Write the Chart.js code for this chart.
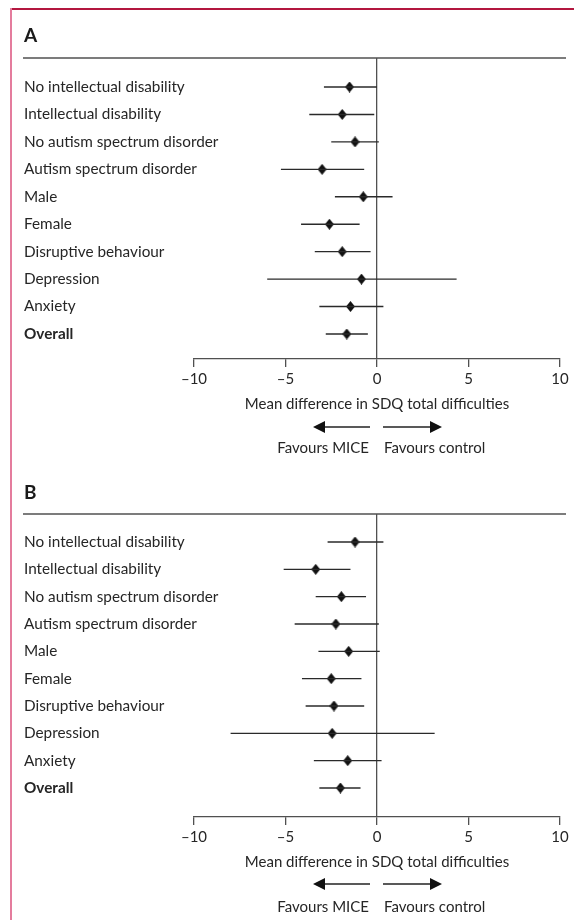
<!DOCTYPE html>
<html lang="en">
<head>
    <meta charset="UTF-8">
    <title>Forest plot - MICE vs control</title>
    <script src="https://cdn.jsdelivr.net/npm/chart.js"></script>
    <style>
        body {
            margin: 0;
            background: #fff;
        }
        .page {
            position: relative;
            width: 574px;
            height: 920px;
            overflow: hidden;
        }
        .border-top {
            position: absolute;
            left: 10px;
            top: 8px;
            width: 564px;
            height: 1.5px;
            background: #b3173f;
        }
        .border-left {
            position: absolute;
            left: 10px;
            top: 8px;
            width: 2px;
            height: 912px;
            background: #e47c9d;
        }
        canvas {
            position: absolute;
            left: 0;
        }
    </style>
</head>
<body>
    <div class="page">
        <canvas id="chartA" width="574" height="460" style="top:0"></canvas>
        <canvas id="chartB" width="574" height="460" style="top:460px"></canvas>
        <div class="border-top"></div>
        <div class="border-left"></div>
    </div>

    <script>
        // Subgroups (same in both panels)
        const subgroups = [
            'No intellectual disability',
            'Intellectual disability',
            'No autism spectrum disorder',
            'Autism spectrum disorder',
            'Male',
            'Female',
            'Disruptive behaviour',
            'Depression',
            'Anxiety',
            'Overall'
        ];

        // Panel A: mean difference and 95% CI
        const meanA  = [-1.5, -1.9, -1.2, -3.0, -0.75, -2.6, -1.9, -0.85, -1.45, -1.65];
        const lowerA = [-2.9, -3.7, -2.5, -5.25, -2.3, -4.15, -3.4, -6.0, -3.15, -2.8];
        const upperA = [0.0, -0.15, 0.1, -0.7, 0.85, -0.95, -0.35, 4.35, 0.35, -0.5];

        // Panel B
        const meanB  = [-1.2, -3.35, -1.95, -2.25, -1.55, -2.5, -2.35, -2.45, -1.6, -2.0];
        const lowerB = [-2.7, -5.1, -3.35, -4.5, -3.2, -4.1, -3.9, -8.0, -3.45, -3.15];
        const upperB = [0.35, -1.45, -0.6, 0.1, 0.15, -0.85, -0.7, 3.15, 0.25, -0.9];

        const xTicks = [-10, -5, 0, 5, 10];
        const axisTitle = 'Mean difference in SDQ total difficulties';
        const favoursLeft = 'Favours MICE';
        const favoursRight = 'Favours control';

        const FONT = 'Lato, "Open Sans", sans-serif';
        const TEXT = '#262626';
        const LINE = '#505050';
        const PLOT_LEFT = 194;   // pixel of x = -10
        const LABEL_LEFT = 24;

        // diamond marker
        function makeDiamond() {
            const c = document.createElement('canvas');
            c.width = 9;
            c.height = 11;
            const g = c.getContext('2d');
            g.fillStyle = '#111';
            g.beginPath();
            g.moveTo(4.5, 0);
            g.lineTo(9, 5.5);
            g.lineTo(4.5, 11);
            g.lineTo(0, 5.5);
            g.closePath();
            g.fill();
            return c;
        }
        const diamond = makeDiamond();

        function fmtTick(v) {
            return v < 0 ? '\u2013' + Math.abs(v) : String(v);
        }

        function drawArrow(ctx, x1, x2, y) {
            // line from x1 to x2, head at x2
            const dir = x2 > x1 ? 1 : -1;
            ctx.beginPath();
            ctx.moveTo(x1, y);
            ctx.lineTo(x2 - dir * 10, y);
            ctx.stroke();
            ctx.beginPath();
            ctx.moveTo(x2, y);
            ctx.lineTo(x2 - dir * 12, y - 6);
            ctx.lineTo(x2 - dir * 12, y + 6);
            ctx.closePath();
            ctx.fill();
        }

        function makeChart(id, letter, means, lows, highs, g) {
            const H = 460;
            const step = (g.rowLast - g.row0) / (subgroups.length - 1);
            const yMin = -(g.row0 - g.top) / step;
            const yMax = (subgroups.length - 1) + (g.axisY - g.rowLast) / step;

            const ciSets = subgroups.map((s, i) => ({
                data: [{ x: lows[i], y: i }, { x: highs[i], y: i }],
                showLine: true,
                borderColor: '#2a2a2a',
                borderWidth: 1.4,
                pointRadius: 0
            }));

            const decor = {
                id: 'decor' + letter,
                afterDraw(chart) {
                    const ctx = chart.ctx;
                    const area = chart.chartArea;
                    const xs = chart.scales.x;
                    const x0 = xs.getPixelForValue(0);
                    ctx.save();
                    // panel letter
                    ctx.fillStyle = '#1a1a1a';
                    ctx.font = 'bold 19px ' + FONT;
                    ctx.textBaseline = 'middle';
                    ctx.textAlign = 'left';
                    ctx.fillText(letter, 24, g.letterY);
                    // header rule
                    ctx.strokeStyle = LINE;
                    ctx.lineWidth = 1.3;
                    ctx.beginPath();
                    ctx.moveTo(23, area.top);
                    ctx.lineTo(566, area.top);
                    ctx.stroke();
                    // arrows
                    ctx.strokeStyle = '#222';
                    ctx.fillStyle = '#111';
                    ctx.lineWidth = 1.5;
                    drawArrow(ctx, x0 - 7, x0 - 64, g.arrowY);
                    drawArrow(ctx, x0 + 6, x0 + 65, g.arrowY);
                    // favours labels
                    ctx.fillStyle = TEXT;
                    ctx.font = '15px ' + FONT;
                    ctx.textAlign = 'right';
                    ctx.fillText(favoursLeft, x0 - 8, g.favY);
                    ctx.textAlign = 'left';
                    ctx.fillText(favoursRight, x0 + 7, g.favY);
                    ctx.restore();
                }
            };

            return new Chart(document.getElementById(id), {
                type: 'scatter',
                data: {
                    datasets: [
                        ...ciSets,
                        {
                            data: means.map((m, i) => ({ x: m, y: i })),
                            pointStyle: diamond,
                            pointRadius: 6,
                            showLine: false
                        }
                    ]
                },
                options: {
                    responsive: false,
                    animation: false,
                    layout: { padding: { left: PLOT_LEFT, right: 14, top: g.top, bottom: 0 } },
                    plugins: {
                        legend: { display: false },
                        tooltip: { enabled: false }
                    },
                    scales: {
                        x: {
                            type: 'linear',
                            min: -10,
                            max: 10,
                            afterBuildTicks: (scale) => {
                                scale.ticks = xTicks.map(v => ({ value: v }));
                            },
                            afterFit: (scale) => {
                                scale.height = H - g.axisY;
                            },
                            border: { display: true, color: LINE, width: 1.3 },
                            grid: {
                                color: (c) => (c.tick && c.tick.value === 0) ? LINE : 'rgba(0,0,0,0)',
                                lineWidth: 1.3,
                                tickColor: LINE,
                                tickLength: 8,
                                tickWidth: 1.3
                            },
                            ticks: {
                                color: TEXT,
                                padding: 3,
                                font: { family: FONT, size: 15 },
                                callback: (v) => fmtTick(v)
                            },
                            title: {
                                display: true,
                                text: axisTitle,
                                color: TEXT,
                                font: { family: FONT, size: 15 },
                                padding: { top: 0, bottom: H - g.titleY - 9 }
                            }
                        },
                        y: {
                            type: 'linear',
                            reverse: true,
                            min: yMin,
                            max: yMax,
                            afterBuildTicks: (scale) => {
                                scale.ticks = subgroups.map((s, i) => ({ value: i }));
                            },
                            afterFit: (scale) => {
                                scale.width = 0;
                            },
                            border: { display: false },
                            grid: { display: false },
                            ticks: {
                                autoSkip: false,
                                mirror: true,
                                crossAlign: 'near',
                                padding: LABEL_LEFT - PLOT_LEFT,
                                color: TEXT,
                                font: (c) => ({
                                    family: FONT,
                                    size: 15.3,
                                    weight: (c.tick && c.tick.value === subgroups.length - 1) ? 'bold' : 'normal'
                                }),
                                callback: (v) => subgroups[v]
                            }
                        }
                    }
                },
                plugins: [decor]
            });
        }

        makeChart('chartA', 'A', meanA, lowerA, upperA,
            { letterY: 36, top: 58, row0: 87, rowLast: 334, axisY: 359, titleY: 404, arrowY: 427, favY: 448 });
        makeChart('chartB', 'B', meanB, lowerB, upperB,
            { letterY: 33, top: 54, row0: 82, rowLast: 328, axisY: 357, titleY: 402, arrowY: 424, favY: 447 });
    </script>
</body>
</html>
